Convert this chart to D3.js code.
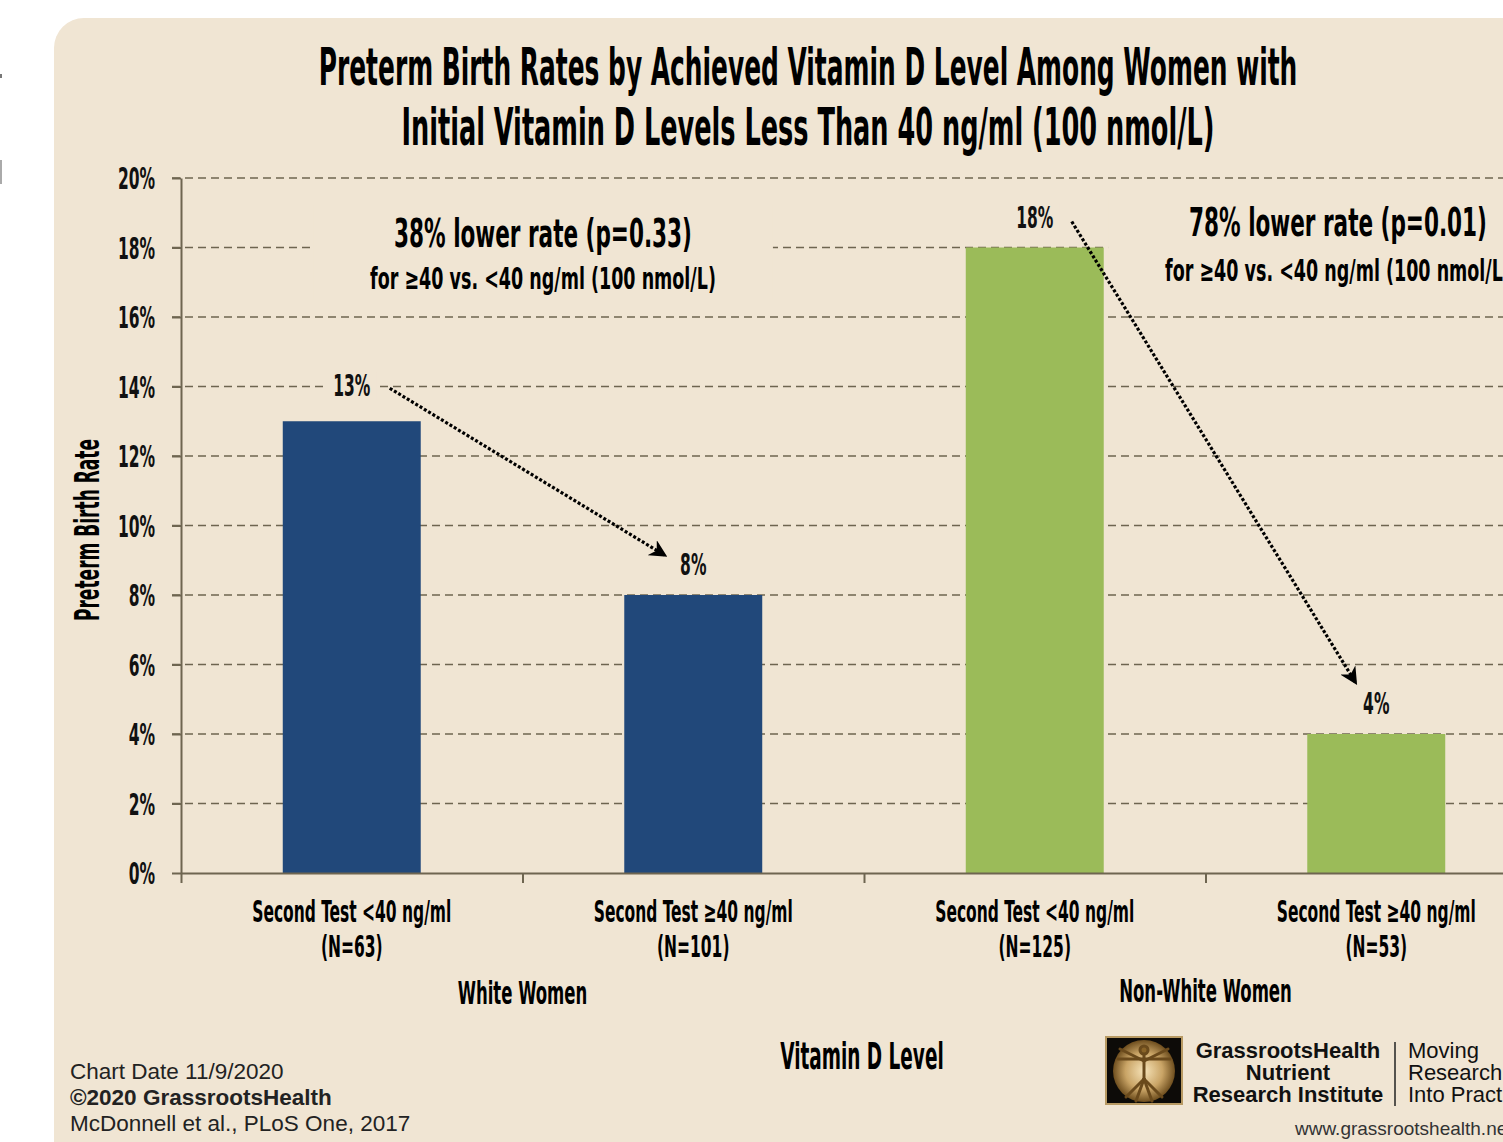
<!DOCTYPE html>
<html>
<head>
<meta charset="utf-8">
<script src="https://cdn.jsdelivr.net/npm/d3@7"></script>
<style>
  body { margin: 0; background: #fff; overflow: hidden; }
  svg { display: block; }
</style>
</head>
<body>
<div id="chart"></div>
<script>
// chart values
const categories = ["white_lt40", "white_ge40", "nonwhite_lt40", "nonwhite_ge40"];
const testLabels = ["Second Test <40 ng/ml", "Second Test \u226540 ng/ml", "Second Test <40 ng/ml", "Second Test \u226540 ng/ml"];
const sampleSizes = ["(N=63)", "(N=101)", "(N=125)", "(N=53)"];
const groupOf = ["White Women", "White Women", "Non-White Women", "Non-White Women"];
const rates = [13, 8, 18, 4];
const groupNames = ["White Women", "Non-White Women"];
const yTicks = [0, 2, 4, 6, 8, 10, 12, 14, 16, 18, 20];
const noteHeads = ["38% lower rate (p=0.33)", "78% lower rate (p=0.01)"];
const noteSubs = ["for \u226540 vs. <40 ng/ml (100 nmol/L)", "for \u226540 vs. <40 ng/ml (100 nmol/L)"];
const arrowPairs = [[0, 1], [2, 3]];
const footerLines = ["Chart Date 11/9/2020", "\u00a92020 GrassrootsHealth", "McDonnell et al., PLoS One, 2017"];

const W = 1503, H = 1142;
const BG = "#F0E5D3";
const AXIS = "#6E6550";
const COND = "'Liberation Sans Narrow', 'DejaVu Sans Condensed', 'Arial Narrow', sans-serif";
const SANS = "'Liberation Sans', Arial, sans-serif";
const color = d3.scaleOrdinal().domain(groupNames).range(["#21487A", "#9BBB59"]);

const svg = d3.select("#chart").append("svg")
    .attr("width", W)
    .attr("height", H);
const defs = svg.append("defs");

// tiny marks at left edge of the screenshot
svg.append("rect").attr("x", 0).attr("y", 74).attr("width", 2).attr("height", 4).attr("fill", "#777");
svg.append("rect").attr("x", 0).attr("y", 160).attr("width", 2).attr("height", 24).attr("fill", "#aaa");

// beige panel
svg.append("rect")
    .attr("x", 54).attr("y", 18)
    .attr("width", 1600).attr("height", 1300)
    .attr("rx", 30)
    .attr("fill", BG);

const plotLeft = 181, plotRight = 1547, plotTop = 178, plotBottom = 873;

const x = d3.scaleBand()
    .domain(categories)
    .range([plotLeft, plotRight])
    .paddingInner(0.596)
    .paddingOuter(0.298);
const xc = c => x(c) + x.bandwidth() / 2;

const xb = d3.scaleLinear().domain([0, categories.length]).range([plotLeft, plotRight]);

const y = d3.scaleLinear().domain([0, 20]).range([plotBottom, plotTop]);

// condensed text gets squeezed later by one common factor (f = extra per-text stretch)
const condTexts = [];
function cond(sel, f = 1) { condTexts.push([sel, f]); return sel; }

// gridlines
svg.append("g")
    .selectAll("line")
    .data(yTicks.filter(d => d > 0))
    .enter()
    .append("line")
    .attr("x1", plotLeft - 9)
    .attr("x2", W)
    .attr("y1", d => y(d))
    .attr("y2", d => y(d))
    .attr("stroke", AXIS)
    .attr("stroke-width", 1.6)
    .attr("stroke-dasharray", "8,5");

// annotation text blocks (with background boxes that hide gridlines)
const noteCenters = [543, 1338];
const noteBoxes = svg.append("g");
const noteGroups = [];
noteHeads.forEach((head, i) => {
    const g = svg.append("g");
    noteGroups.push(g);
    cond(g.append("text")
        .attr("x", noteCenters[i])
        .attr("y", i === 0 ? 247 : 236)
        .attr("text-anchor", "middle")
        .style("font-family", COND)
        .style("font-weight", "bold")
        .style("font-size", "39px")
        .text(head), 1.07);
    cond(g.append("text")
        .attr("x", noteCenters[i])
        .attr("y", i === 0 ? 289 : 281)
        .attr("text-anchor", "middle")
        .style("font-family", COND)
        .style("font-weight", "bold")
        .style("font-size", "30px")
        .text(noteSubs[i]), 1.13);
});

// bars
svg.append("g")
    .selectAll("rect")
    .data(categories)
    .enter()
    .append("rect")
    .attr("x", d => x(d))
    .attr("y", (d, i) => y(rates[i]))
    .attr("width", x.bandwidth())
    .attr("height", (d, i) => plotBottom - y(rates[i]))
    .attr("fill", (d, i) => color(groupOf[i]));

// y axis
const yAxis = svg.append("g")
    .attr("transform", `translate(${plotLeft},0)`)
    .call(d3.axisLeft(y).tickValues(yTicks).tickSize(9).tickSizeOuter(0).tickPadding(17).tickFormat(d => d + "%"));
yAxis.selectAll("path, line").attr("stroke", AXIS).attr("stroke-width", 2);
cond(yAxis.selectAll("text")
    .attr("dy", "0.36em")
    .style("font-family", COND)
    .style("font-weight", "bold")
    .style("font-size", "30px")
    .attr("fill", "#111"));

// x axis with ticks at category boundaries
const xAxis = svg.append("g")
    .attr("transform", `translate(0,${plotBottom})`)
    .call(d3.axisBottom(xb).tickValues(d3.range(categories.length + 1)).tickSize(10).tickSizeOuter(0).tickFormat(""));
xAxis.selectAll("path, line").attr("stroke", AXIS).attr("stroke-width", 2);

// category labels
const labels = svg.append("g");
cond(labels.selectAll("text.test")
    .data(categories)
    .enter()
    .append("text")
    .attr("class", "test")
    .attr("x", d => xc(d))
    .attr("y", 922)
    .attr("text-anchor", "middle")
    .style("font-family", COND)
    .style("font-weight", "bold")
    .style("font-size", "30px")
    .text((d, i) => testLabels[i]));
cond(labels.selectAll("text.n")
    .data(categories)
    .enter()
    .append("text")
    .attr("class", "n")
    .attr("x", d => xc(d))
    .attr("y", 957)
    .attr("text-anchor", "middle")
    .style("font-family", COND)
    .style("font-weight", "bold")
    .style("font-size", "30px")
    .text((d, i) => sampleSizes[i]));

// group labels centered under their pair of bars
cond(labels.selectAll("text.group")
    .data(groupNames)
    .enter()
    .append("text")
    .attr("class", "group")
    .attr("x", g => d3.mean(categories.filter((c, i) => groupOf[i] === g), xc))
    .attr("y", (g, i) => i === 0 ? 1004 : 1002)
    .attr("text-anchor", "middle")
    .style("font-family", COND)
    .style("font-weight", "bold")
    .style("font-size", "32px")
    .text(g => g));

// X-axis title
cond(svg.append("text")
    .attr("x", (plotLeft + plotRight) / 2 - 2)
    .attr("y", 1069)
    .attr("text-anchor", "middle")
    .style("font-family", COND)
    .style("font-weight", "bold")
    .style("font-size", "38px")
    .text("Vitamin D Level"), 0.94);

// Y-axis title
cond(svg.append("text")
    .attr("transform", "translate(99,530) rotate(-90)")
    .attr("text-anchor", "middle")
    .style("font-family", COND)
    .style("font-weight", "bold")
    .style("font-size", "33px")
    .text("Preterm Birth Rate"));

// Title
const titleLines = ["Preterm Birth Rates by Achieved Vitamin D Level Among Women with",
    "Initial Vitamin D Levels Less Than 40 ng/ml (100 nmol/L)"];
const titleStretch = [0.927, 0.952];
titleLines.forEach((t, i) => {
    cond(svg.append("text")
        .attr("x", 808)
        .attr("y", 85 + i * 60)
        .attr("text-anchor", "middle")
        .style("font-family", COND)
        .style("font-weight", "bold")
        .style("font-size", "52px")
        .text(t), titleStretch[i]);
});

// value labels above bars
const valueLabels = svg.append("g");
cond(valueLabels.selectAll("text")
    .data(categories)
    .enter()
    .append("text")
    .attr("x", d => xc(d))
    .attr("y", (d, i) => y(rates[i]) - (rates[i] === 13 ? 25 : 20))
    .attr("text-anchor", "middle")
    .style("font-family", COND)
    .style("font-weight", "bold")
    .style("font-size", "30px")
    .attr("fill", "#111")
    .text((d, i) => rates[i] + "%"));

// squeeze condensed text to the narrow look of the original font
const probe = svg.append("text")
    .style("font-family", COND).style("font-weight", "bold").style("font-size", "30px")
    .text(testLabels[0]);
const k = 199 / probe.node().getComputedTextLength();
probe.remove();
condTexts.forEach(([sel, f]) => sel.each(function () {
    const L = this.getComputedTextLength();
    d3.select(this).attr("textLength", L * k * f).attr("lengthAdjust", "spacingAndGlyphs");
}));

// boxes behind value labels and notes, so gridlines break around them
valueLabels.selectAll("text").each(function () {
    const b = this.getBBox();
    const w = +this.getAttribute("textLength");
    valueLabels.insert("rect", "text")
        .attr("x", +this.getAttribute("x") - w / 2 - 6)
        .attr("y", b.y + 4)
        .attr("width", w + 12)
        .attr("height", b.height - 8)
        .attr("fill", BG);
});
noteGroups.forEach(g => {
    const b = g.node().getBBox();
    noteBoxes.append("rect")
        .attr("x", b.x - 57)
        .attr("y", b.y - 6)
        .attr("width", b.width + 114)
        .attr("height", b.height + 10)
        .attr("fill", BG);
});

// dotted arrows
defs.append("marker")
    .attr("id", "head")
    .attr("viewBox", "0 0 10 10")
    .attr("refX", 8).attr("refY", 5)
    .attr("markerWidth", 5.5).attr("markerHeight", 5.5)
    .attr("markerUnits", "strokeWidth")
    .attr("orient", "auto")
    .append("path")
    .attr("d", "M0,0 L10,5 L0,10 L3,5 Z")
    .attr("fill", "#000");

const arrowOffsets = [
    { sx: 38, sy: -33, ex: -29, ey: -40 },
    { sx: 37, sy: -26, ex: -21, ey: -52 }
];
svg.append("g")
    .selectAll("line")
    .data(arrowPairs)
    .enter()
    .append("line")
    .attr("x1", (p, i) => xc(categories[p[0]]) + arrowOffsets[i].sx)
    .attr("y1", (p, i) => y(rates[p[0]]) + arrowOffsets[i].sy)
    .attr("x2", (p, i) => xc(categories[p[1]]) + arrowOffsets[i].ex)
    .attr("y2", (p, i) => y(rates[p[1]]) + arrowOffsets[i].ey)
    .attr("stroke", "#000")
    .attr("stroke-width", 3.2)
    .attr("stroke-dasharray", "3,2")
    .attr("marker-end", "url(#head)");

// footer
footerLines.forEach((t, i) => {
    svg.append("text")
        .attr("x", 70)
        .attr("y", 1079 + i * 26)
        .style("font-family", SANS)
        .style("font-size", "22.5px")
        .style("font-weight", i === 1 ? "bold" : "normal")
        .attr("fill", "#222")
        .text(t);
});

// logo
const grad = defs.append("radialGradient").attr("id", "glow");
grad.append("stop").attr("offset", "0%").attr("stop-color", "#F6E3B8");
grad.append("stop").attr("offset", "60%").attr("stop-color", "#C9A466");
grad.append("stop").attr("offset", "100%").attr("stop-color", "#6E4E1E");
const logo = svg.append("g").attr("transform", "translate(1106,1037)");
logo.append("rect").attr("width", 76).attr("height", 67).attr("fill", "#0d0b08").attr("stroke", "#B89A63").attr("stroke-width", 2);
logo.append("circle").attr("cx", 38).attr("cy", 34).attr("r", 31).attr("fill", "url(#glow)");
const man = logo.append("g").attr("stroke", "#6A4A1C").attr("stroke-width", 3).attr("stroke-linecap", "round").attr("fill", "none");
man.append("circle").attr("cx", 38).attr("cy", 13).attr("r", 4).attr("fill", "#8A6428");
man.append("line").attr("x1", 38).attr("y1", 18).attr("x2", 38).attr("y2", 42);
man.append("line").attr("x1", 12).attr("y1", 22).attr("x2", 64).attr("y2", 22);
man.append("line").attr("x1", 14).attr("y1", 12).attr("x2", 38).attr("y2", 24);
man.append("line").attr("x1", 62).attr("y1", 12).attr("x2", 38).attr("y2", 24);
man.append("line").attr("x1", 38).attr("y1", 42).attr("x2", 30).attr("y2", 64);
man.append("line").attr("x1", 38).attr("y1", 42).attr("x2", 46).attr("y2", 64);
man.append("line").attr("x1", 38).attr("y1", 42).attr("x2", 20).attr("y2", 60);
man.append("line").attr("x1", 38).attr("y1", 42).attr("x2", 56).attr("y2", 60);

const orgLines = ["GrassrootsHealth", "Nutrient", "Research Institute"];
orgLines.forEach((t, i) => {
    svg.append("text")
        .attr("x", 1288)
        .attr("y", 1058 + i * 22)
        .attr("text-anchor", "middle")
        .style("font-family", SANS)
        .style("font-weight", "bold")
        .style("font-size", "22px")
        .attr("fill", "#111")
        .text(t);
});
svg.append("line")
    .attr("x1", 1395).attr("x2", 1395)
    .attr("y1", 1042).attr("y2", 1106)
    .attr("stroke", "#222").attr("stroke-width", 1.5);
["Moving", "Research", "Into Practice"].forEach((t, i) => {
    svg.append("text")
        .attr("x", 1408)
        .attr("y", 1058 + i * 22)
        .style("font-family", SANS)
        .style("font-size", "22px")
        .attr("fill", "#111")
        .text(t);
});
svg.append("text")
    .attr("x", 1295)
    .attr("y", 1135)
    .style("font-family", SANS)
    .style("font-size", "19px")
    .attr("fill", "#333")
    .text("www.grassrootshealth.net");
</script>
</body>
</html>
